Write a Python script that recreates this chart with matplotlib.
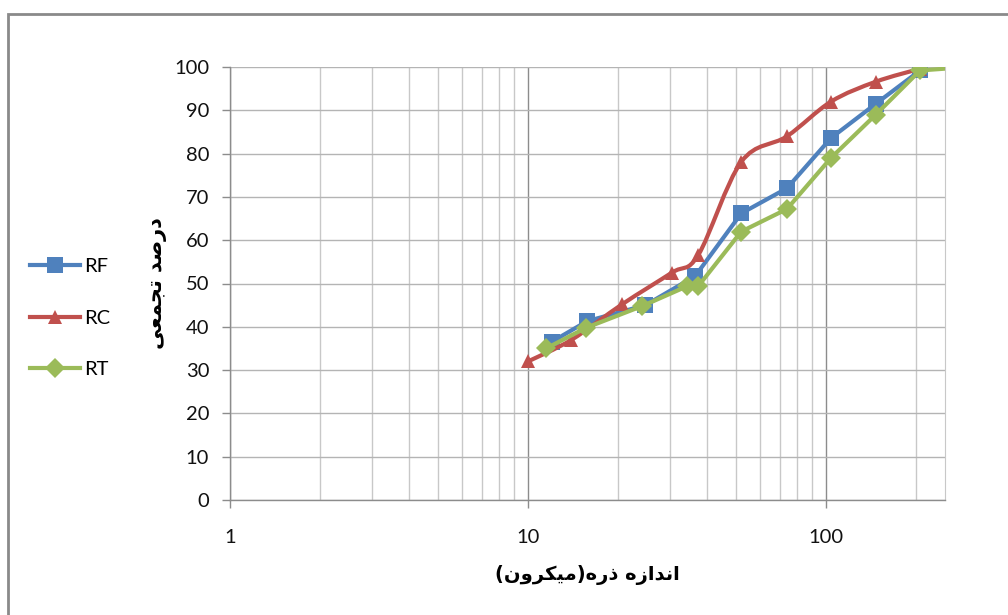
import numpy as np
import matplotlib
matplotlib.use("Agg")
import matplotlib.pyplot as plt
from matplotlib.path import Path
from matplotlib.patches import PathPatch, Rectangle
from matplotlib.lines import Line2D
from matplotlib import font_manager
from matplotlib.ft2font import FT2Font
from matplotlib.ticker import LogLocator, FixedLocator, NullFormatter

# ---- data -------------------------------------------------------------
rf_size = [12.0, 15.8, 24.8, 36.4, 52.0, 74.0, 104.0, 147.0, 207.0]
rf_pct = [36.5, 41.3, 45.0, 51.7, 66.2, 72.0, 83.6, 91.5, 99.2]

rc_size = [10.0, 14.0, 20.7, 30.4, 37.3, 52.0, 74.0, 104.0, 147.0, 207.0]
rc_pct = [32.0, 37.0, 45.2, 52.5, 56.6, 78.1, 84.0, 92.0, 96.6, 99.6]

rt_size = [11.5, 15.7, 24.2, 34.3, 37.3, 52.0, 74.0, 104.0, 147.0, 207.0, 300.0]
rt_pct = [35.0, 39.8, 44.8, 49.4, 49.4, 62.0, 67.2, 79.0, 89.0, 99.2, 100.0]

series_names = ["RF", "RC", "RT"]
y_ticks = [0, 10, 20, 30, 40, 50, 60, 70, 80, 90, 100]
x_ticks = [1, 10, 100]
x_tick_labels = ["1", "10", "100"]
XLABEL = "اندازه ذره(میکرون)"
YLABEL = "درصد تجمعی"

BLUE = "#4F81BD"
RED = "#C0504D"
GREEN = "#9BBB59"

# ---- minimal Arabic/Persian shaping (presentation forms, visual order) ----
AR_FONT = "DejaVu Sans"
_path = font_manager.findfont(font_manager.FontProperties(family=AR_FONT, weight="bold"))
_cmap = FT2Font(_path).get_charmap()


def _pick(*cands):
    for c in cands:
        if ord(c) in _cmap:
            return c
    return cands[-1]


# iso, fin, ini, med  (ini/med None => joins only to the preceding letter)
FORMS = {
    "\u0627": ("\uFE8D", "\uFE8E", None, None),            # alef
    "\u062F": ("\uFEA9", "\uFEAA", None, None),            # dal
    "\u0630": ("\uFEAB", "\uFEAC", None, None),            # thal
    "\u0631": ("\uFEAD", "\uFEAE", None, None),            # reh
    "\u0632": ("\uFEAF", "\uFEB0", None, None),            # zain
    "\u0648": ("\uFEED", "\uFEEE", None, None),            # waw
    "\u0646": ("\uFEE5", "\uFEE6", "\uFEE7", "\uFEE8"),    # noon
    "\u0647": ("\uFEE9", "\uFEEA", "\uFEEB", "\uFEEC"),    # heh
    "\u0645": ("\uFEE1", "\uFEE2", "\uFEE3", "\uFEE4"),    # meem
    "\u0635": ("\uFEB9", "\uFEBA", "\uFEBB", "\uFEBC"),    # sad
    "\u062A": ("\uFE95", "\uFE96", "\uFE97", "\uFE98"),    # teh
    "\u062C": ("\uFE9D", "\uFE9E", "\uFE9F", "\uFEA0"),    # jeem
    "\u0639": ("\uFEC9", "\uFECA", "\uFECB", "\uFECC"),    # ain
    "\u06CC": (_pick("\uFBFC", "\uFEEF"), _pick("\uFBFD", "\uFEF0"),
               _pick("\uFBFE", "\uFEF3"), _pick("\uFBFF", "\uFEF4")),  # farsi yeh
    "\u06A9": (_pick("\uFB8E", "\uFED9"), _pick("\uFB8F", "\uFEDA"),
               _pick("\uFB90", "\uFEDB"), _pick("\uFB91", "\uFEDC")),  # keheh
}


def shape_rtl(text):
    chars = list(text)
    out = []
    for i, c in enumerate(chars):
        if c not in FORMS:
            out.append(c)
            continue
        iso, fin, ini, med = FORMS[c]
        prev = chars[i - 1] if i > 0 else None
        nxt = chars[i + 1] if i + 1 < len(chars) else None
        join_prev = prev in FORMS and FORMS[prev][2] is not None
        join_next = ini is not None and nxt in FORMS
        if join_prev and join_next:
            out.append(med)
        elif join_prev:
            out.append(fin)
        elif join_next:
            out.append(ini)
        else:
            out.append(iso)
    vis = "".join(reversed(out))
    return vis.translate(str.maketrans("()", ")("))


def smooth_path(xs, ys, tension=1.0 / 6.0):
    """Catmull-Rom style cubic Bezier through the points (in log-x space)."""
    lx = np.log10(np.asarray(xs, float))
    y = np.asarray(ys, float)
    n = len(lx)
    verts = [(xs[0], ys[0])]
    codes = [Path.MOVETO]
    for i in range(n - 1):
        p0 = max(i - 1, 0)
        p3 = min(i + 2, n - 1)
        c1 = (lx[i] + (lx[i + 1] - lx[p0]) * tension, y[i] + (y[i + 1] - y[p0]) * tension)
        c2 = (lx[i + 1] - (lx[p3] - lx[i]) * tension, y[i + 1] - (y[p3] - y[i]) * tension)
        verts += [(10 ** c1[0], c1[1]), (10 ** c2[0], c2[1]), (xs[i + 1], ys[i + 1])]
        codes += [Path.CURVE4, Path.CURVE4, Path.CURVE4]
    return Path(verts, codes)


# ---- figure ---------------------------------------------------------------
plt.rcParams["font.family"] = ["Lato", "DejaVu Sans"]
W, H = 1008, 615
fig = plt.figure(figsize=(W / 100, H / 100), dpi=100)
fig.patch.set_facecolor("white")

# chart-area border
fig.add_artist(Rectangle((8 / W, -0.2), 1.2, 1 - 14 / H + 0.2, transform=fig.transFigure,
                         fill=False, edgecolor="#8a8a8a", linewidth=2.0))

ax = fig.add_axes([230 / W, 1 - 500 / H, (945 - 230) / W, (500 - 67) / H])
ax.set_xscale("log")
ax.set_xlim(1, 251)
ax.set_ylim(0, 100)

ax.yaxis.set_major_locator(FixedLocator(y_ticks))
ax.xaxis.set_major_locator(FixedLocator(x_ticks))
ax.set_xticklabels(x_tick_labels)
ax.xaxis.set_minor_locator(LogLocator(base=10, subs=np.arange(2, 10)))
ax.xaxis.set_minor_formatter(NullFormatter())

ax.grid(axis="y", which="major", color="#b4b4b4", linewidth=1.0)
ax.grid(axis="x", which="major", color="#8c8c8c", linewidth=1.0)
ax.grid(axis="x", which="minor", color="#c8c8c8", linewidth=1.0)
ax.set_axisbelow(True)

for s in ["left", "bottom"]:
    ax.spines[s].set_color("#8c8c8c")
    ax.spines[s].set_linewidth(1.0)
ax.spines["right"].set_color("#c8c8c8")
ax.spines["top"].set_visible(False)

ax.tick_params(axis="y", which="major", direction="out", length=6, width=1,
               color="#8c8c8c", pad=9, labelsize=14.5, labelcolor="#111111")
ax.tick_params(axis="x", which="major", direction="out", length=6, width=1,
               color="#8c8c8c", pad=15, labelsize=14.5, labelcolor="#111111")
ax.tick_params(axis="x", which="minor", length=0)

lw = 3.0
ax.plot(rf_size, rf_pct, color=BLUE, lw=lw, marker="s", ms=11.5,
        markeredgewidth=0, zorder=3)
rc_patch = PathPatch(smooth_path(rc_size, rc_pct), facecolor="none",
                     edgecolor=RED, lw=lw, capstyle="round", joinstyle="round", zorder=3)
ax.add_patch(rc_patch)
ax.plot(rc_size, rc_pct, color=RED, lw=0, marker="^", ms=10.5,
        markeredgewidth=0, zorder=3.1)
ax.plot(rt_size, rt_pct, color=GREEN, lw=lw, marker="D", ms=10.5,
        markeredgewidth=0, zorder=3.2)

ax.set_xlabel(shape_rtl(XLABEL), family=[AR_FONT], fontweight="bold", fontsize=14)
ax.xaxis.set_label_coords(0.5, -(565 - 500) / 433)
ax.set_ylabel(shape_rtl(YLABEL), family=[AR_FONT], fontweight="bold", fontsize=15,
              rotation=90)
ax.yaxis.set_label_coords(-(230 - 167) / 715, 0.5)

handles = [
    Line2D([], [], color=BLUE, lw=lw, marker="s", ms=11.5, markeredgewidth=0),
    Line2D([], [], color=RED, lw=lw, marker="^", ms=10.5, markeredgewidth=0),
    Line2D([], [], color=GREEN, lw=lw, marker="D", ms=10.5, markeredgewidth=0),
]
fig.legend(handles, series_names, loc="center left",
           bbox_to_anchor=(30 / W, 1 - 318 / H), frameon=False,
           fontsize=14.5, handlelength=2.5, handletextpad=0.2,
           labelspacing=1.7, borderpad=0, borderaxespad=0)

fig.savefig("out.png", dpi=100)
